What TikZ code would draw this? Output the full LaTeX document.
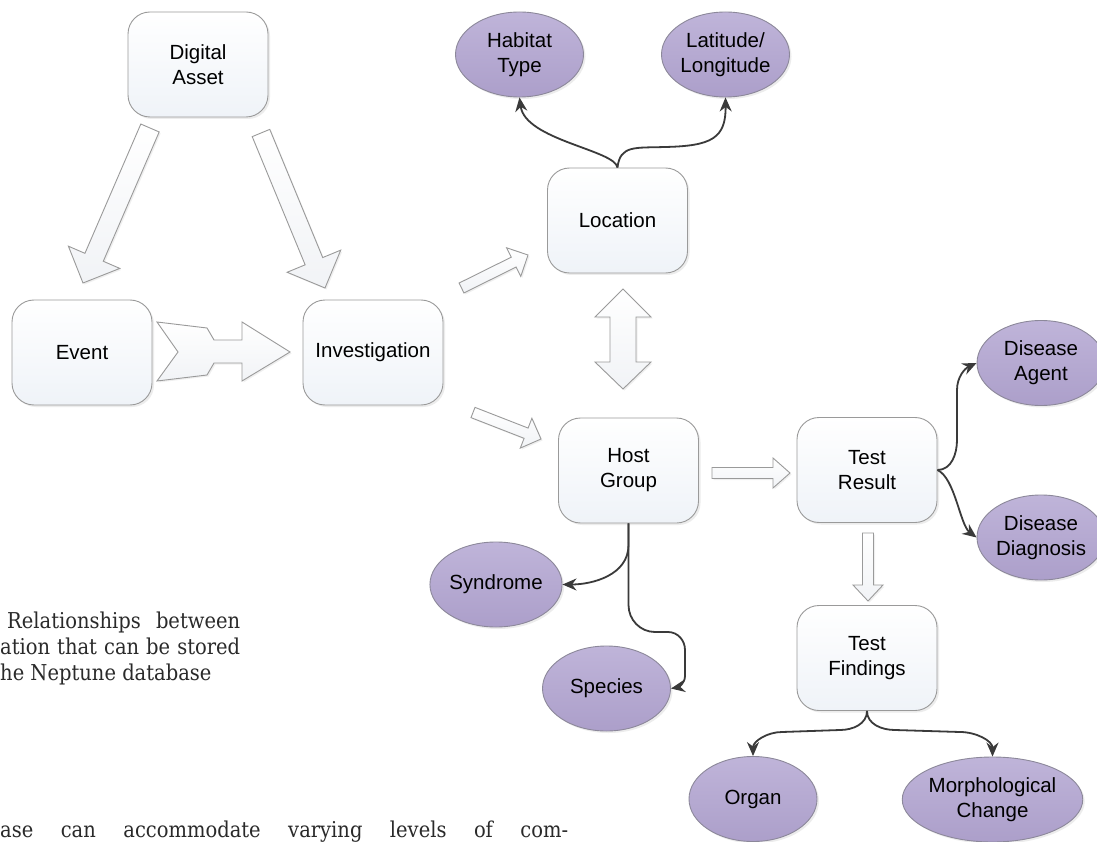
\documentclass[tikz,border=0pt]{standalone}
\usepackage{fontspec}
\setmainfont{DejaVu Serif}
\newfontfamily\diagfont{Liberation Sans}
\usetikzlibrary{shapes.geometric,shadows,calc,arrows.meta}
\definecolor{boxline}{HTML}{9A9A9A}
\definecolor{boxbot}{HTML}{EFF3F8}
\definecolor{elltop}{HTML}{BFB4D9}
\definecolor{ellbot}{HTML}{AC9FCA}
\definecolor{ellline}{HTML}{8C889A}
\definecolor{connc}{HTML}{3A3A3A}
\definecolor{captext}{HTML}{2A2A2A}
\definecolor{arrfill}{HTML}{F1F3F6}
\tikzset{
  box/.style={draw=boxline, line width=0.9pt, rounded corners=22pt,
    minimum width=140pt, minimum height=105pt, inner sep=0pt, align=center,
    top color=white, bottom color=boxbot,
    font=\diagfont\fontsize{20.5}{25}\selectfont,
    drop shadow={shadow xshift=2pt, shadow yshift=-2pt, opacity=0.15}},
  ell/.style={ellipse, draw=ellline, line width=0.9pt,
    minimum width=128pt, minimum height=85pt, inner sep=0pt, align=center,
    top color=elltop, bottom color=ellbot,
    font=\diagfont\fontsize{20.5}{25}\selectfont,
    drop shadow={shadow xshift=2pt, shadow yshift=-2pt, opacity=0.15}},
  link/.style={draw=connc, line width=1.8pt, -{Stealth[length=14pt,width=12pt]}},
  blockarr/.style={draw=boxline, line width=0.9pt, top color=white, bottom color=arrfill,
    drop shadow={shadow xshift=1.5pt, shadow yshift=-1.5pt, opacity=0.12}},
  captxt/.style={inner sep=0pt, text=captext, font=\fontsize{19.5}{26}\selectfont}
}
\newcommand{\myblockarrow}[5]{%
  \coordinate (ba-n) at ($(#2)!#5!(#1)$);
  \path[blockarr] ($(#1)!#3!90:(#2)$) -- ($(ba-n)!#3!90:(#2)$) -- ($(ba-n)!#4!90:(#2)$)
    -- (#2) -- ($(ba-n)!#4!-90:(#2)$) -- ($(ba-n)!#3!-90:(#2)$) -- ($(#1)!#3!-90:(#2)$) -- cycle;
}
\newcommand{\captall}[1]{\scalebox{1}[1.12]{#1}}
\begin{document}
\begin{tikzpicture}[x=1pt,y=-1pt]
\useasboundingbox (0,0) rectangle (1097,842);
\fill[white] (0,0) rectangle (1097,842);

% boxes
\node[box] (dig) at (198,64.5) {Digital\\Asset};
\node[box] (ev) at (82,352.5) {Event};
\node[box] (inv) at (373,352.5) {Investigation};
\node[box] (loc) at (617.5,220.5) {Location};
\node[box] (hg) at (628.5,470.5) {Host\\Group};
\node[box] (tr) at (867,470) {Test\\Result};
\node[box] (tf) at (867,658) {Test\\Findings};

% ellipses
\node[ell] (hab) at (519.5,54.5) {Habitat\\Type};
\node[ell] (lat) at (725.5,54.5) {Latitude/\\Longitude};
\node[ell] (da) at (1041,363) {Disease\\Agent};
\node[ell] (dd) at (1041,537.5) {Disease\\Diagnosis};
\node[ell] (syn) at (496,584.5) {Syndrome};
\node[ell] (sp) at (606.5,688.5) {Species};
\node[ell] (org) at (753,799) {Organ};
\node[ell, minimum width=136pt] (mc) at (992.5,799.5) {Morphological\\Change};

% block arrows
\coordinate (a1t) at (150,128); \coordinate (a1h) at (83,283);
\coordinate (a2t) at (261,133); \coordinate (a2h) at (325,288);
\coordinate (a3t) at (461.5,288); \coordinate (a3h) at (528,255);
\coordinate (a4t) at (473,412.5); \coordinate (a4h) at (541,439);
\coordinate (a5t) at (712,473); \coordinate (a5h) at (790,473);
\coordinate (a6t) at (868,533); \coordinate (a6h) at (868,601);
\myblockarrow{a1t}{a1h}{10pt}{28pt}{28pt}
\myblockarrow{a2t}{a2h}{9.5pt}{29pt}{29pt}
\myblockarrow{a3t}{a3h}{5.5pt}{16pt}{16pt}
\myblockarrow{a4t}{a4h}{5.5pt}{16pt}{16pt}
\myblockarrow{a5t}{a5h}{5.5pt}{15pt}{17pt}
\myblockarrow{a6t}{a6h}{5.5pt}{15pt}{16pt}

% Event -> Investigation notched arrow
\path[blockarr] (157,322) -- (207,328) -- (214,340) -- (242,340) -- (242,322) -- (290,352)
  -- (242,381) -- (242,363) -- (214,363) -- (207,375) -- (157,381) -- (178,352) -- cycle;

% Location <-> Host Group double arrow
\path[blockarr] (623,289) -- (651,317) -- (636,317) -- (636,362) -- (651,362) -- (623,389)
  -- (595,362) -- (610,362) -- (610,317) -- (595,317) -- cycle;

% connectors
\draw[link] (loc.north) .. controls (615,150) and (525,140) .. (hab.south);
\draw[link] (loc.north) .. controls (620,145) and (635,148) .. (665,147)
  .. controls (712,146) and (726,138) .. (lat.south);
\draw[link] (tr.east) to[out=0,in=-90] (957,440) -- (957,390) to[out=90,in=205] (da.west);
\draw[link] (tr.east) .. controls (955,478) and (960,525) .. (dd.west);
\draw[link] (hg.south) -- (628.5,545) to[out=-90,in=0] (syn.east);
\draw[link] (hg.south) -- (628.5,605) to[out=-90,in=180] (655,632) -- (668,632)
  to[out=0,in=90] (685,650) -- (685,676) to[out=-90,in=10] (sp.east);
\draw[link] (tf.south) to[out=-90,in=0] (840,730) -- (782,732) to[out=180,in=90] (org.north);
\draw[link] (tf.south) to[out=-90,in=180] (895,730) -- (960,732) to[out=0,in=90] (mc.north);

% caption text
\node[captxt, anchor=base west] (cap1) at (7,628) {\captall{\hbox to 233pt{Relationships\hfill between}}};
\node[captxt, anchor=base west] (cap2) at (0,654) {\captall{\hbox to 240pt{ation\hfill that\hfill can\hfill be\hfill stored}}};
\node[captxt, anchor=base west] (cap3) at (0,680) {\captall{he Neptune database}};
\node[captxt, anchor=base west] (cap4) at (0,837) {\captall{\hbox to 568pt{ase\hfill can\hfill accommodate\hfill varying\hfill levels\hfill of\hfill com-}}};
\end{tikzpicture}
\end{document}
